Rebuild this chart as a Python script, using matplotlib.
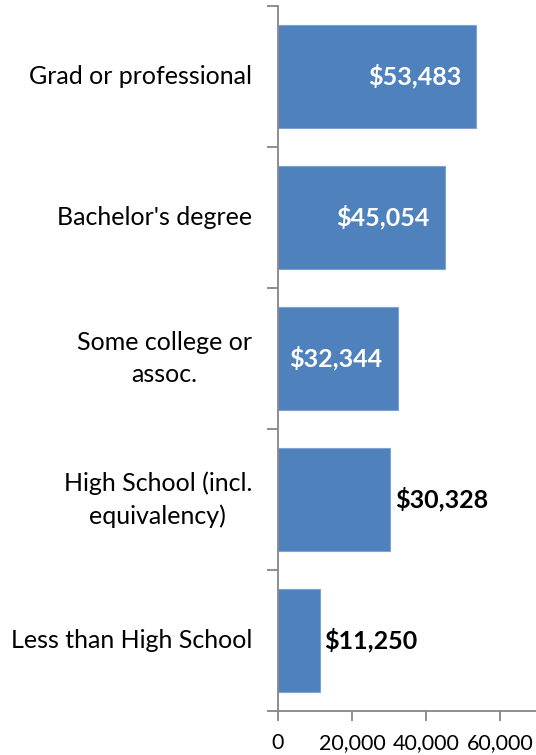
import matplotlib
matplotlib.use("Agg")
import matplotlib.pyplot as plt
from matplotlib.transforms import offset_copy

plt.rcParams['font.family'] = ['Lato', 'DejaVu Sans']

categories = ["Less than High School", "High School (incl.\nequivalency)",
              "Some college or\nassoc.", "Bachelor's degree", "Grad or professional"]
values = [11250, 30328, 32344, 45054, 53483]
labels = ["$11,250", "$30,328", "$32,344", "$45,054", "$53,483"]
inside = [False, False, True, True, True]
xticks = [0, 20000, 40000, 60000]
xtick_labels = ["0", "20,000", "40,000", "60,000"]

W, H = 536, 755
fig = plt.figure(figsize=(W / 100, H / 100), dpi=100)
ax = fig.add_axes([278 / W, 1 - 711 / H, (536 - 278) / W, (711 - 6) / H])

pos = range(len(categories))
bars = ax.barh(pos, values, height=0.73, color="#4F81BD", edgecolor="#7FA3D1", linewidth=0.8)

ax.set_xlim(0, 69730)
ax.set_ylim(-0.5, len(categories) - 0.5)

axis_col = "#868686"
for s in ["top", "right"]:
    ax.spines[s].set_visible(False)
for s in ["left", "bottom"]:
    ax.spines[s].set_color(axis_col)
    ax.spines[s].set_linewidth(1.3)

ax.set_xticks(xticks)
ax.set_xticklabels(xtick_labels, fontsize=15.5)
ax.tick_params(axis="x", length=7, width=1.3, color=axis_col, pad=9)

# category boundaries as y ticks, labels placed separately
ax.set_yticks([i - 0.5 for i in range(len(categories) + 1)])
ax.set_yticklabels([])
ax.tick_params(axis="y", length=8, width=1.3, color=axis_col)

for i, cat in enumerate(categories):
    t = offset_copy(ax.transData, fig=fig, x=-26, y=0, units="dots")
    ax.text(0, i, cat, transform=t, ha="right", va="center", multialignment="center",
            fontsize=18, linespacing=1.45, color="black")

for i, (v, lab, ins) in enumerate(zip(values, labels, inside)):
    if ins:
        t = offset_copy(ax.transData, fig=fig, x=-15, y=0, units="dots")
        ax.text(v, i, lab, transform=t, ha="right", va="center",
                fontsize=18, fontweight="bold", color="white")
    else:
        t = offset_copy(ax.transData, fig=fig, x=5, y=0, units="dots")
        ax.text(v, i, lab, transform=t, ha="left", va="center",
                fontsize=18, fontweight="bold", color="black")

fig.savefig("out.png", dpi=100)
